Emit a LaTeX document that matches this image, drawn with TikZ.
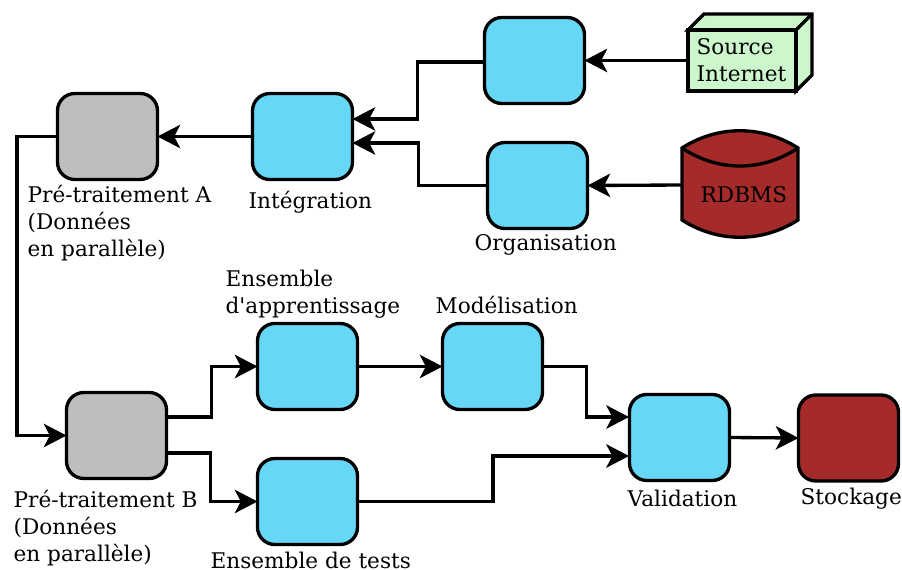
\documentclass[tikz,border=0pt]{standalone}
\usepackage{fontspec}
\setmainfont{DejaVu Serif}
\usetikzlibrary{arrows.meta}

\definecolor{bleuBox}{RGB}{102,215,245}
\definecolor{grisBox}{RGB}{190,190,190}
\definecolor{brunBox}{RGB}{165,42,42}
\definecolor{vertBox}{RGB}{204,247,204}

\tikzset{every picture/.style={line width=2.5pt}}
\tikzset{
  etape/.style={draw,rounded corners=13pt,minimum width=75pt,minimum height=64.5pt,inner sep=0pt,outer sep=0pt},
  etapeBleu/.style={etape,fill=bleuBox},
  etapeGris/.style={etape,fill=grisBox},
  etapeBrun/.style={etape,fill=brunBox},
  legende/.style={anchor=north west,inner sep=0pt,align=left,font=\fontsize{16.2pt}{20.25pt}\selectfont},
  fleche/.style={-{Stealth[length=17pt,width=17.5pt,inset=4.5pt]},line join=miter}
}

\begin{document}
\begin{tikzpicture}[x=0.75pt,y=0.75pt,yscale=-1,xscale=1]
\useasboundingbox (0,0) rectangle (902,570);

% Boxes
\node [etapeBleu] (orgWeb) at (534.5,60.5) {};
\node [etapeBleu] (orgBase) at (537.5,185.5) {};
\node [etapeBleu] (integ) at (302.5,136.5) {};
\node [etapeGris] (preA) at (107.5,136.5) {};
\node [etapeGris] (preB) at (116.5,435.5) {};
\node [etapeBleu] (appr) at (307.5,366.5) {};
\node [etapeBleu] (tests) at (307.5,501.5) {};
\node [etapeBleu] (model) at (492.5,366.5) {};
\node [etapeBleu] (valid) at (679.5,437.5) {};
\node [etapeBrun] (stock) at (848.5,438) {};

% Source box
\draw [fill=vertBox,line join=miter] (688,30) -- (704,14) -- (812,14) -- (812,75) -- (796,91) -- (796,30) -- cycle;
\draw [line join=miter] (796,30) -- (812,14);
\node [draw,fill=vertBox,line join=miter,minimum width=81pt,minimum height=45.75pt,inner sep=0pt,outer sep=0pt] (source) at (742,60.5) {};
\node [legende] (sourceTxt) at (695,37) {Source\\Internet};

% Database
\draw [fill=brunBox] (682,148) .. controls (718,125) and (762,125) .. (798,148) -- (798,220) .. controls (762,243) and (718,243) .. (682,220) -- cycle;
\draw (682,148) .. controls (718,172) and (762,172) .. (798,148);
\node [inner sep=0pt,outer sep=0pt,minimum width=87pt,minimum height=20pt] (rdbms) at (740,185) {};
\node [legende] (rdbmsTxt) at (699,185) {RDBMS};

% Free ends
\coordinate (integHaut) at (352.5,119);
\coordinate (integBas) at (352.5,143);
\coordinate (orgWebOut) at (485,62);
\coordinate (preBHaut) at (167,417);
\coordinate (preBBas) at (167,453);
\coordinate (validHaut) at (629,417);
\coordinate (validBas) at (629,456);

% Connectors
\draw [fleche] (source.west) -- (orgWeb.east);
\draw [fleche] (rdbms.west) -- (orgBase.east);
\draw [fleche] (orgWebOut) -- (417.5,62) -- (417.5,119) -- (integHaut);
\draw [fleche] (orgBase.west) -- (418.5,185.5) -- (418.5,143) -- (integBas);
\draw [fleche] (integ.west) -- (preA.east);
\draw [fleche] (preA.west) -- (17,136.5) -- (17,435.5) -- (preB.west);
\draw [fleche] (preBHaut) -- (211.5,417) -- (211.5,366.5) -- (appr.west);
\draw [fleche] (preBBas) -- (210.5,453) -- (210.5,501.5) -- (tests.west);
\draw [fleche] (appr.east) -- (model.west);
\draw [fleche] (model.east) -- (586.5,366.5) -- (586.5,417) -- (validHaut);
\draw [fleche] (tests.east) -- (493,501.5) -- (493,456) -- (validBas);
\draw [fleche] (valid.east) -- (stock.west);

% Text Node
\node [legende] (lblIntA) at (26,184) {Pré-traitement A\\(Données\\en parallèle)};
\node [legende] (lblInteg) at (247,190) {Intégration};
\node [legende] (lblOrg) at (473,233) {Organisation};
\node [legende] (lblAppr) at (224,268) {Ensemble\\d\textquotesingle apprentissage};
\node [legende] (lblModel) at (434,295) {Modélisation};
\node [legende] (lblIntB) at (12,489) {Pré-traitement B\\(Données\\en parallèle)};
\node [legende] (lblTests) at (209,550) {Ensemble de tests};
\node [legende] (lblValid) at (626,488) {Validation};
\node [legende] (lblStock) at (799,486) {Stockage};

\end{tikzpicture}
\end{document}
